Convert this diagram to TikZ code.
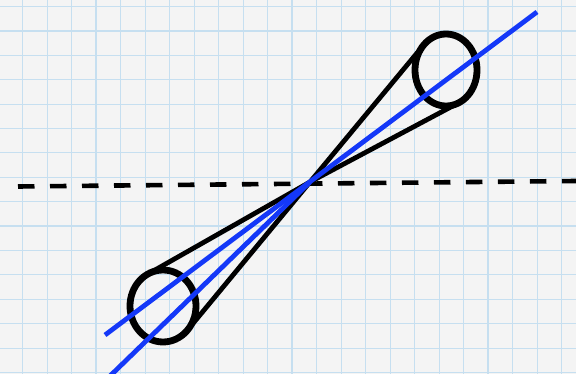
\documentclass[tikz,border=0pt]{standalone}
\begin{document}
\begin{tikzpicture}[x=1pt,y=-1pt,
  minorgrid/.style={draw=gridblue,line width=1pt},
  majorgrid/.style={draw=gridblue,line width=1.9pt},
  ray/.style={draw=rayblue,line width=4.8pt},
  conel/.style={draw=black,line width=4.8pt},
  rim/.style={draw=black,line width=6.8pt},
  axis/.style={draw=black,line width=4.6pt,dash pattern=on 16.5pt off 15.5pt}]
\definecolor{gridblue}{RGB}{198,223,240}
\definecolor{paper}{RGB}{244,244,244}
\definecolor{rayblue}{RGB}{20,56,248}
\fill[paper] (0,0) rectangle (576,374);
\useasboundingbox (0,0) rectangle (576,374);
\begin{scope}
\clip (0,0) rectangle (576,374);
\foreach \i in {-4,...,20} {
  \path[minorgrid] ({96+\i*24.5},0) -- ({96+\i*24.5},374);
}
\foreach \j in {-2,...,15} {
  \path[minorgrid] (0,{31+\j*24.4}) -- (576,{31+\j*24.4});
}
\foreach \i in {0,1,2} {
  \path[majorgrid] ({96+\i*196},0) -- ({96+\i*196},374);
}
\foreach \j in {0,1} {
  \path[majorgrid] (0,{31+\j*195.2}) -- (576,{31+\j*195.2});
}
\end{scope}
% key points
\coordinate (X) at (310,182);
\coordinate (topC) at (446,70);
\coordinate (botC) at (163,306);
\coordinate (tA) at (423.7,45);
\coordinate (tB) at (458.9,102.7);
\coordinate (bA) at (147.8,274.1);
\coordinate (bB) at (187.5,330.1);
\coordinate (axL) at (18,186.5);
\coordinate (axR) at (576,181);
\coordinate (rayAtop) at (537,12);
\coordinate (rayAbot) at (105,335);
\coordinate (rayBbot) at (110,376);
% dashed axis
\path[axis] (axL) -- (axR);
% cone sides
\path[conel] (X) -- (tA);
\path[conel] (X) -- (tB);
\path[conel] (X) -- (bA);
\path[conel] (X) -- (bB);
% rims
\path[rim] (topC) ellipse [x radius=31, y radius=36];
\path[rim] (botC) ellipse [x radius=33, y radius=36];
% blue rays
\path[ray] (rayAbot) -- (rayAtop);
\path[ray] (rayBbot) -- (X);
\end{tikzpicture}
\end{document}
